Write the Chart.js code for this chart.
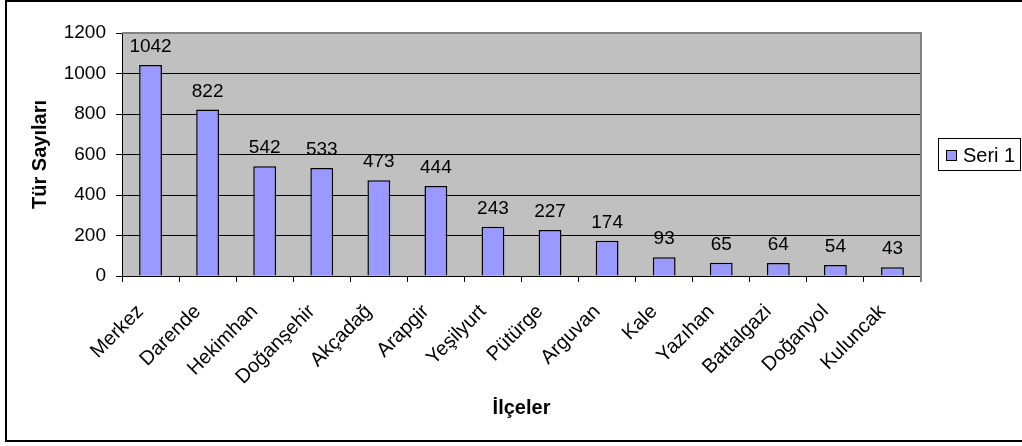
<!DOCTYPE html>
<html>
<head>
<meta charset="utf-8">
<script src="https://cdn.jsdelivr.net/npm/chart.js@4/dist/chart.umd.min.js"></script>
<style>
html,body{margin:0;padding:0;background:#fff;}
#wrap{width:1022px;height:446px;}
</style>
</head>
<body>
<div id="wrap"><canvas id="c" width="1022" height="446"></canvas></div>
<script>
const categories = ['Merkez','Darende','Hekimhan','Doğanşehir','Akçadağ','Arapgir','Yeşilyurt','Pütürge','Arguvan','Kale','Yazıhan','Battalgazi','Doğanyol','Kuluncak'];
const seriesName = 'Seri 1';
const values = [1042,822,542,533,473,444,243,227,174,93,65,64,54,43];
const yTickValues = [0,200,400,600,800,1000,1200];
const yTitle = 'Tür Sayıları';
const xTitle = 'İlçeler';

const FONT = "'Liberation Sans', Arial, sans-serif";

const framePlugin = {
  id: 'frame',
  beforeDraw(chart) {
    const {ctx, chartArea: a} = chart;
    ctx.save();
    ctx.fillStyle = '#fff';
    ctx.fillRect(0, 0, chart.width, chart.height);
    ctx.fillStyle = '#C0C0C0';
    ctx.fillRect(a.left, a.top, a.right - a.left, a.bottom - a.top);
    ctx.restore();
  },
  afterDraw(chart) {
    const {ctx, chartArea: a} = chart;
    ctx.save();
    ctx.strokeStyle = '#808080';
    ctx.lineWidth = 2;
    ctx.beginPath();
    ctx.moveTo(a.left, a.top);
    ctx.lineTo(a.right, a.top);
    ctx.lineTo(a.right, a.bottom + 6);
    ctx.stroke();
    ctx.strokeStyle = '#000';
    ctx.lineWidth = 2;
    ctx.strokeRect(6, 1, 1040, 440);
    const ds = chart.data.datasets[0];
    ctx.lineWidth = 1;
    ctx.strokeStyle = '#000';
    ctx.strokeRect(938.5, 138.5, 82, 32);
    ctx.fillStyle = ds.backgroundColor;
    ctx.fillRect(946.5, 150.5, 10, 10);
    ctx.strokeRect(946.5, 150.5, 10, 10);
    ctx.fillStyle = '#000';
    ctx.font = '20px ' + FONT;
    ctx.textAlign = 'left';
    ctx.textBaseline = 'middle';
    ctx.fillText(ds.label, 963, 156);
    ctx.restore();
  },
  afterDatasetsDraw(chart) {
    const {ctx} = chart;
    const meta = chart.getDatasetMeta(0);
    const data = chart.data.datasets[0].data;
    ctx.save();
    ctx.fillStyle = '#000';
    ctx.font = '19px ' + FONT;
    ctx.textAlign = 'center';
    ctx.textBaseline = 'alphabetic';
    meta.data.forEach((bar, i) => {
      ctx.fillText(String(data[i]), bar.x, bar.y - 13);
    });
    ctx.restore();
  }
};

new Chart(document.getElementById('c'), {
  type: 'bar',
  data: {
    labels: categories,
    datasets: [{
      label: seriesName,
      data: values,
      backgroundColor: '#9999FF',
      borderColor: '#000',
      borderWidth: 1.5,
      barPercentage: 0.4,
      categoryPercentage: 1.0
    }]
  },
  options: {
    responsive: false,
    animation: false,
    devicePixelRatio: 1,
    layout: {padding: {top: 33, right: 101, left: 0, bottom: 0}},
    plugins: {legend: {display: false}, tooltip: {enabled: false}},
    scales: {
      x: {
        afterFit(s) { s.height = 170; },
        grid: {offset: true, drawOnChartArea: false, drawTicks: true, tickLength: 6, color: '#000'},
        border: {display: true, color: '#000', width: 1},
        ticks: {color: '#000', font: {family: FONT, size: 20}, maxRotation: 45, minRotation: 45, padding: 18, labelOffset: -10, autoSkip: false},
        title: {display: true, text: xTitle, color: '#000', font: {family: FONT, size: 20, weight: 'bold'}, padding: {top: 0, bottom: 26}}
      },
      y: {
        min: 0, max: 1200,
        afterFit(s) { s.width = 122; },
        afterBuildTicks(s) { s.ticks = yTickValues.map(v => ({value: v})); },
        grid: {color: '#000', lineWidth: 1, tickLength: 6, drawTicks: true},
        border: {display: true, color: '#000', width: 1},
        ticks: {color: '#000', font: {family: FONT, size: 19}, padding: 10, callback: v => String(v)},
        title: {display: true, text: yTitle, color: '#000', font: {family: FONT, size: 20, weight: 'bold'}, padding: {top: 28, bottom: 0}}
      }
    }
  },
  plugins: [framePlugin]
});
</script>
</body>
</html>
